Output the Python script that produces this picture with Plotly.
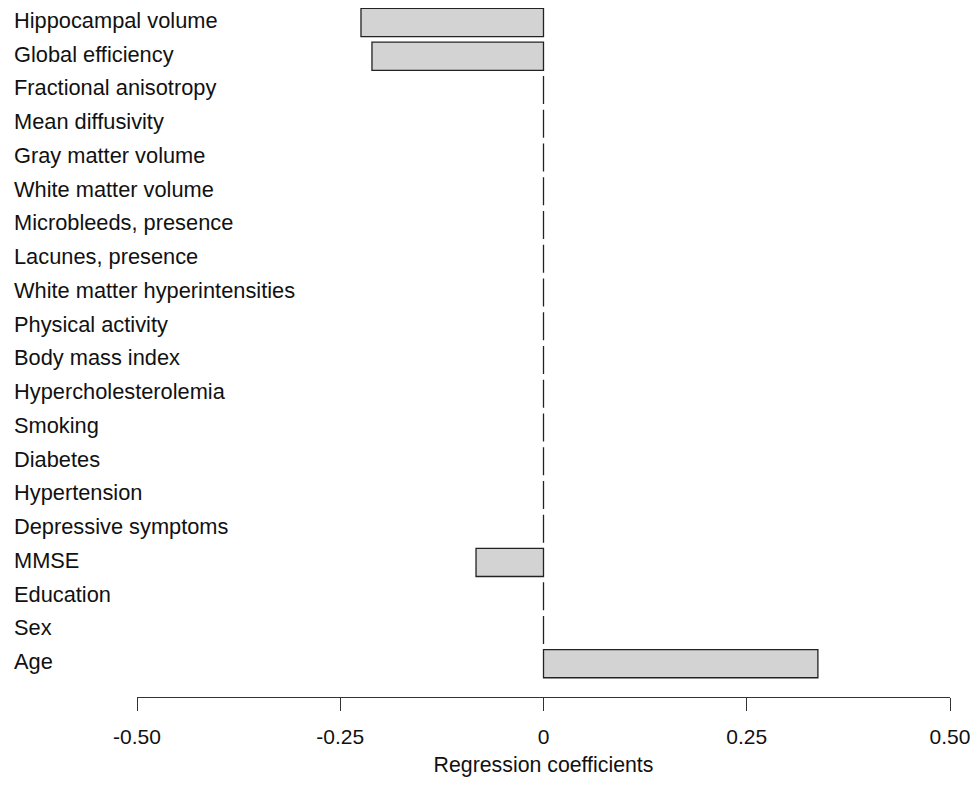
import plotly.graph_objects as go

categories = ["Hippocampal volume", "Global efficiency", "Fractional anisotropy", "Mean diffusivity",
              "Gray matter volume", "White matter volume", "Microbleeds, presence", "Lacunes, presence",
              "White matter hyperintensities", "Physical activity", "Body mass index",
              "Hypercholesterolemia", "Smoking", "Diabetes", "Hypertension", "Depressive symptoms",
              "MMSE", "Education", "Sex", "Age"]
coefficients = [-0.2245, -0.211, 0, 0, 0, 0, 0, 0, 0, 0, 0, 0, 0, 0, 0, 0, -0.083, 0, 0, 0.3375]
x_ticks = [-0.5, -0.25, 0, 0.25, 0.5]
x_tick_labels = ["-0.50", "-0.25", "0", "0.25", "0.50"]

# bottom-to-top order (Age at the bottom)
cats_rev = categories[::-1]
vals_rev = coefficients[::-1]
ypos = list(range(len(cats_rev)))

FONT = "Liberation Sans, Arial, sans-serif"
bar_w = 1 / 1.2

fig = go.Figure()
fig.add_trace(go.Bar(
    x=vals_rev, y=ypos, orientation="h", width=bar_w,
    marker=dict(color="#d3d3d3", line=dict(color="#222222", width=1.3)),
    hoverinfo="x+text", text=cats_rev, textposition="none",
))

for y, c in zip(ypos, cats_rev):
    fig.add_annotation(x=(12 - 137) / 813, xref="paper", y=y + 0.06, yref="y", text=c,
                       showarrow=False, xanchor="left", yanchor="middle",
                       font=dict(family=FONT, size=21.8, color="#111111"))

fig.update_layout(
    width=963, height=769,
    margin=dict(l=129, r=21, t=0, b=80),
    paper_bgcolor="white", plot_bgcolor="white",
    showlegend=False,
    xaxis=dict(range=[-0.5, 0.5], tickvals=x_ticks, ticktext=x_tick_labels,
               automargin=False,
               showgrid=False, zeroline=False, showline=True, linecolor="#333333", linewidth=1.3,
               ticks="outside", ticklen=13, tickwidth=1.3, tickcolor="#333333",
               ticklabelstandoff=8,
               tickfont=dict(family=FONT, size=21, color="#111111"),
               title=dict(text="Regression coefficients", font=dict(family=FONT, size=21.3, color="#111111"),
                          standoff=18)),
    yaxis=dict(range=[-0.987, 19.43], showticklabels=False, showgrid=False, zeroline=False,
               automargin=False, showline=False, ticks=""),
)

fig.write_html("out.html")
